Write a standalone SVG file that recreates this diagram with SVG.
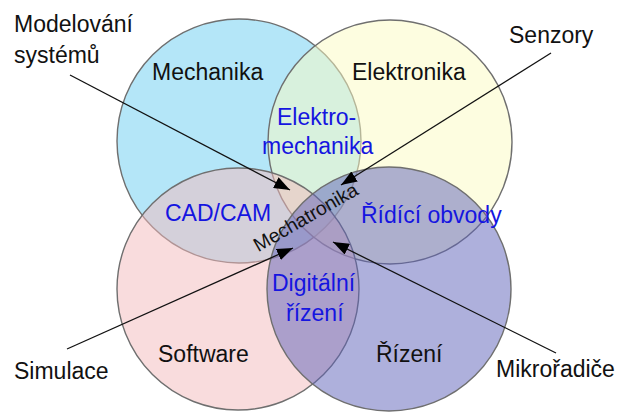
<svg xmlns="http://www.w3.org/2000/svg" width="619" height="412" viewBox="0 0 619 412">
<defs>
<style>
.c{stroke:#6f6f6f;stroke-width:1.4}
.lbl{font-family:"Liberation Sans",Arial,sans-serif;font-size:23px;fill:#111}
.in{font-family:"Liberation Sans",Arial,sans-serif;font-size:23px;fill:#1515e0}
.ar{stroke:#111;stroke-width:1.3;fill:none;marker-end:url(#ah)}
</style>
<marker id="ah" viewBox="0 0 16 12" refX="16" refY="6" markerWidth="16" markerHeight="12" markerUnits="userSpaceOnUse" orient="auto">
<path d="M0,0 L16,6 L0,12 z" fill="#000"/>
</marker>
</defs>
<rect width="619" height="412" fill="#fff"/>
<g id="mechanika">
<circle class="c" cx="239" cy="141" r="122" fill="rgb(105,205,241)" fill-opacity="0.5"/>
</g>
<g id="elektronika">
<circle class="c" cx="390" cy="142" r="122" fill="rgb(251,251,193)" fill-opacity="0.5"/>
</g>
<g id="software">
<circle class="c" cx="238" cy="289" r="121" fill="rgb(243,185,187)" fill-opacity="0.5"/>
</g>
<g id="rizeni">
<circle class="c" cx="389" cy="289" r="122" fill="rgb(93,97,185)" fill-opacity="0.5"/>
</g>
<g id="labels">
<text class="lbl" x="152" y="80">Mechanika</text>
<text class="lbl" x="352" y="80">Elektronika</text>
<text class="lbl" x="158" y="362">Software</text>
<text class="lbl" x="376" y="362">Řízení</text>
<text class="in" x="277" y="125">Elektro-</text>
<text class="in" x="262" y="154">mechanika</text>
<text class="in" x="165" y="221">CAD/CAM</text>
<text class="in" x="361" y="223">Řídící obvody</text>
<text class="in" x="272" y="291">Digitální</text>
<text class="in" x="286" y="321">řízení</text>
<text class="lbl" text-anchor="middle" transform="translate(309,223) rotate(-30)" style="font-size:19.5px">Mechatronika</text>
</g>
<g id="ext-labels">
<text class="lbl" x="14" y="32">Modelování</text>
<text class="lbl" x="14" y="63">systémů</text>
<text class="lbl" x="509" y="43">Senzory</text>
<text class="lbl" x="14" y="379">Simulace</text>
<text class="lbl" x="496" y="377">Mikrořadiče</text>
</g>
<g id="connectors">
<line class="ar" x1="70" y1="75" x2="290" y2="190"/>
<line class="ar" x1="551" y1="53" x2="341" y2="185"/>
<line class="ar" x1="67" y1="349" x2="293" y2="248"/>
<line class="ar" x1="556" y1="353" x2="333" y2="242"/>
</g>
</svg>
